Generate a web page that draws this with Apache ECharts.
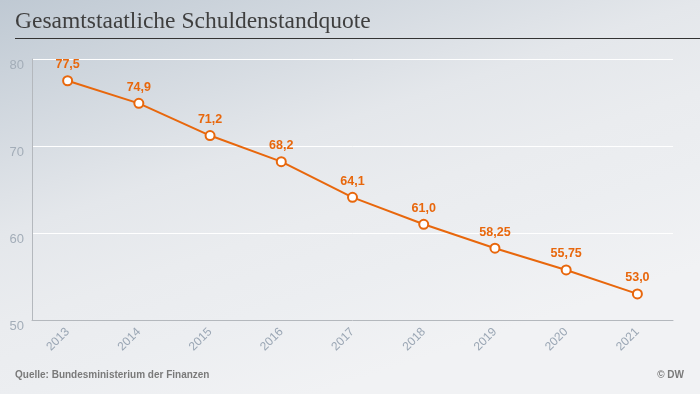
<!DOCTYPE html>
<html><head><meta charset="utf-8">
<script src="https://cdn.jsdelivr.net/npm/echarts@6/dist/echarts.min.js"></script>
<style>html,body{margin:0;padding:0;}#c{width:700px;height:394px;}</style>
</head><body><div id="c"></div>
<script>
var categories = ['2013','2014','2015','2016','2017','2018','2019','2020','2021'];
var values = [77.5, 74.9, 71.2, 68.2, 64.1, 61.0, 58.25, 55.75, 53.0];
var valueLabels = ['77,5','74,9','71,2','68,2','64,1','61,0','58,25','55,75','53,0'];
var yTicks = [50, 60, 70, 80];

var chart = echarts.init(document.getElementById('c'));
chart.setOption({
  backgroundColor: new echarts.graphic.LinearGradient(0, 0, 150, 450, [
    {offset: 0, color: '#bfc9d3'},
    {offset: 0.47, color: '#e4e7eb'},
    {offset: 0.65, color: '#eaecef'},
    {offset: 0.8, color: '#eceef1'},
    {offset: 1, color: '#f1f2f4'}
  ], true),
  animation: false,
  grid: {left: 32, right: 27, top: 59, bottom: 74, containLabel: false},
  graphic: [
    {type: 'text', left: 15, top: 10, style: {text: 'Gesamtstaatliche Schuldenstandquote', font: '23.5px "Liberation Serif", serif', fill: '#3f3f3f'}},
    {type: 'rect', shape: {x: 15, y: 38, width: 685, height: 1}, style: {fill: '#333'}},
    {type: 'text', left: 15, top: 370, style: {text: 'Quelle: Bundesministerium der Finanzen', font: 'bold 10px "Liberation Sans", Arial, sans-serif', fill: '#7a7a7a'}},
    {type: 'text', right: 16, top: 370, style: {text: '© DW', font: 'bold 10px "Liberation Sans", Arial, sans-serif', fill: '#7a7a7a'}}
  ],
  xAxis: {
    type: 'category', data: categories, boundaryGap: true,
    axisLine: {lineStyle: {color: '#b4b8bd', width: 1}},
    axisTick: {show: false},
    axisLabel: {rotate: 45, color: '#9aa6b4', fontSize: 12, fontFamily: '"Liberation Sans", Arial, sans-serif', margin: 10}
  },
  yAxis: {
    type: 'value', min: 50, max: 80, interval: 10,
    axisLine: {show: true, lineStyle: {color: '#b4b8bd', width: 1}},
    axisTick: {show: false},
    splitLine: {lineStyle: {color: '#ffffff', width: 1}},
    axisLabel: {color: '#a3adb8', fontSize: 13, fontFamily: '"Liberation Sans", Arial, sans-serif', margin: 8, verticalAlign: 'top',
      formatter: function(v){ return yTicks.indexOf(v) >= 0 ? String(v) : ''; }}
  },
  series: [{
    type: 'line', data: values,
    lineStyle: {color: '#e8670c', width: 2},
    itemStyle: {color: '#ffffff', borderColor: '#e8670c', borderWidth: 2},
    symbol: 'circle', symbolSize: 9,
    label: {show: true, position: 'top', distance: 4, color: '#e8670c', fontWeight: 'bold', fontSize: 12.5,
      fontFamily: '"Liberation Sans", Arial, sans-serif',
      formatter: function(p){ return valueLabels[p.dataIndex]; }}
  }]
});
</script></body></html>
